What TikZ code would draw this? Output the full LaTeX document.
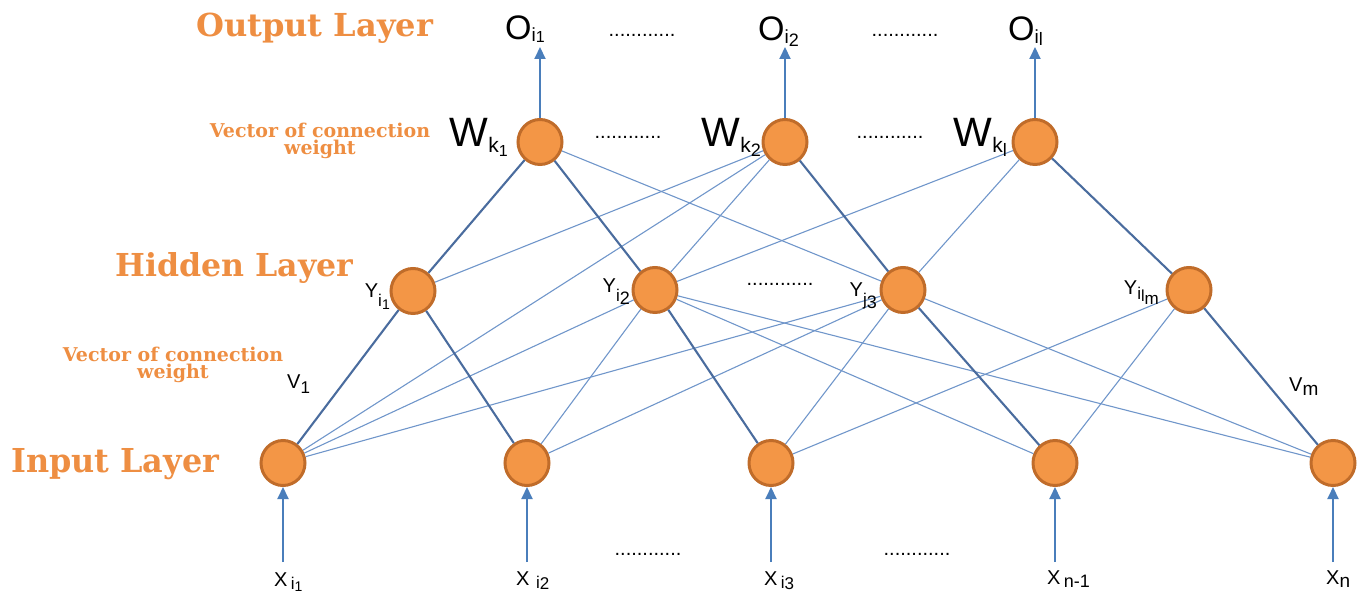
\documentclass[tikz,border=0pt]{standalone}
\usepackage{fontspec}
\setmainfont{Liberation Sans}
\newfontfamily\slab{DejaVu Serif}
\usetikzlibrary{arrows.meta,shapes.geometric}

\definecolor{nodefill}{RGB}{243,150,70}
\definecolor{nodeborder}{RGB}{192,108,42}
\definecolor{layertxt}{RGB}{238,142,66}
\definecolor{thinline}{RGB}{112,150,202}
\definecolor{thickline}{RGB}{74,108,158}
\definecolor{arrowblue}{RGB}{74,126,187}

\newcommand\fs[1]{\fontsize{#1}{#1}\selectfont}
\newcommand\lo[2]{\raisebox{-#1pt}{#2}}

\tikzset{
  neuron/.style={ellipse, draw=nodeborder, fill=nodefill, line width=3pt,
    minimum width=44pt, minimum height=45pt, inner sep=0pt},
  thinedge/.style={draw=thinline, line width=1.1pt},
  thickedge/.style={draw=thickline, line width=2.1pt},
  flow/.style={draw=arrowblue, line width=2pt, -{Triangle[length=12pt,width=11pt]}},
  layerlbl/.style={text=layertxt, inner sep=0pt, anchor=base west},
  weightlbl/.style={font=\slab\bfseries\fontsize{19}{17}\selectfont, text=layertxt, align=center,
    inner sep=0pt, anchor=base},
  txt/.style={inner sep=0pt, text=black},
  dotrow/.style={inner sep=0pt, font=\fs{20}},
}

\begin{document}
\begin{tikzpicture}[x=1pt,y=-1pt]
\path[use as bounding box] (0,0) rectangle (1363,593);

% neurons
\node[neuron] (W1) at (540,142) {};
\node[neuron] (W2) at (785,142) {};
\node[neuron] (W3) at (1035,142) {};
\node[neuron] (H1) at (413,291) {};
\node[neuron] (H2) at (655,290) {};
\node[neuron] (H3) at (903,290) {};
\node[neuron] (H4) at (1189,290) {};
\node[neuron] (I1) at (283,463) {};
\node[neuron] (I2) at (527,463) {};
\node[neuron] (I3) at (771,463) {};
\node[neuron] (I4) at (1055,463) {};
\node[neuron] (I5) at (1333,463) {};

% thin connections
\foreach \a/\b in {W1/H3, W2/H1, W2/I1, W2/H2, W3/H2, W3/H3,
                   H2/I1, H2/I2, H2/I4, H2/I5,
                   H3/I1, H3/I2, H3/I3, H3/I5,
                   H4/I3, H4/I4}
  \draw[thinedge] (\a) -- (\b);
% thick connections
\foreach \a/\b in {W1/H1, W1/H2, W2/H3, W3/H4,
                   H1/I1, H1/I2, H2/I3, H3/I4, H4/I5}
  \draw[thickedge] (\a) -- (\b);

% output arrows
\coordinate (o1) at (540,47);
\coordinate (o2) at (785,47);
\coordinate (o3) at (1035,47);
\draw[flow] (W1.north) -- (o1);
\draw[flow] (W2.north) -- (o2);
\draw[flow] (W3.north) -- (o3);

% input arrows
\coordinate (x1) at (283,562);
\coordinate (x2) at (527,562);
\coordinate (x3) at (771,562);
\coordinate (x4) at (1055,562);
\coordinate (x5) at (1333,562);
\draw[flow] (x1) -- (I1.south);
\draw[flow] (x2) -- (I2.south);
\draw[flow] (x3) -- (I3.south);
\draw[flow] (x4) -- (I4.south);
\draw[flow] (x5) -- (I5.south);

% layer titles
\node[layerlbl] (tout) at (196,37) {\resizebox{237pt}{23.5pt}{\slab\bfseries Output Layer}};
\node[layerlbl] (thid) at (115,277) {\resizebox{238pt}{24pt}{\slab\bfseries Hidden Layer}};
\node[layerlbl] (tin) at (11,472) {\resizebox{208pt}{24pt}{\slab\bfseries Input Layer}};
\node[weightlbl] (vw1) at (320,155) {Vector of connection\\weight};
\node[weightlbl] (vw2) at (173,379) {Vector of connection\\weight};

% output labels
\node[txt, anchor=base west] (lo1) at (505,40) {\fs{34}O\lo{2}{\fs{19}i\lo{1}{\fs{16}1}}};
\node[txt, anchor=base west] (lo2) at (758,41) {\fs{34}O\lo{3}{\fs{19}i\lo{3}{\fs{18}2}}};
\node[txt, anchor=base west] (lo3) at (1008,41) {\fs{34}O\lo{3}{\fs{19}i\lo{2}{\fs{18}l}}};

% weight labels
\node[txt, anchor=base east] (lw1) at (508,147) {\fs{41}W\lo{6}{\fs{21}k\lo{4}{\fs{16}1}}};
\node[txt, anchor=base east] (lw2) at (761,147) {\fs{41}W\lo{6}{\fs{21}k\lo{4}{\fs{18}2}}};
\node[txt, anchor=base east] (lw3) at (1007,147) {\fs{41}W\lo{6}{\fs{21}k\lo{4}{\fs{18}l}}};

% hidden labels
\node[txt, anchor=base east] (ly1) at (390,298) {\fs{20}Y\lo{9}{\fs{17}i\lo{3}{\fs{14}1}}};
\node[txt, anchor=base east] (ly2) at (630,293) {\fs{20}Y\lo{9}{\fs{17}i\lo{3}{\fs{18}2}}};
\node[txt, anchor=base east] (ly3) at (877,297) {\fs{20}Y\lo{9}{\fs{17}j\lo{3}{\fs{18}3}}};
\node[txt, anchor=base east] (ly4) at (1159,295) {\fs{20}Y\lo{5}{\fs{17}i\lo{2}{\fs{16}l\lo{3}{\fs{17}m}}}};

% V labels
\node[txt, anchor=base west] (lv1) at (287,389) {\fs{20}V\lo{5}{\fs{17}1}};
\node[txt, anchor=base west] (lvm) at (1289,392) {\fs{20}V\lo{4}{\fs{19}m}};

% input labels
\node[txt, anchor=base west] (lx1) at (274,586) {\fs{20}X\,\lo{3}{\fs{17}i\lo{2}{\fs{14}1}}};
\node[txt, anchor=base west] (lx2) at (516,585) {\fs{20}X\,\,\lo{3}{\fs{17}i\lo{1}{\fs{17}2}}};
\node[txt, anchor=base west] (lx3) at (764,585) {\fs{20}X\,\lo{3}{\fs{17}i\lo{1}{\fs{17}3}}};
\node[txt, anchor=base west] (lx4) at (1047,584) {\fs{20}X\,\lo{3}{\fs{18}n-1}};
\node[txt, anchor=base west] (lx5) at (1326,584) {\fs{20}X\lo{3}{\fs{19}n}};

% ellipsis dots
\node[dotrow] (d1) at (642,35) {............};
\node[dotrow] (d2) at (905,35) {............};
\node[dotrow] (d3) at (628,137) {............};
\node[dotrow] (d4) at (890,137) {............};
\node[dotrow] (d5) at (780,284) {............};
\node[dotrow] (d6) at (648,554) {............};
\node[dotrow] (d7) at (917,554) {............};
\end{tikzpicture}
\end{document}
